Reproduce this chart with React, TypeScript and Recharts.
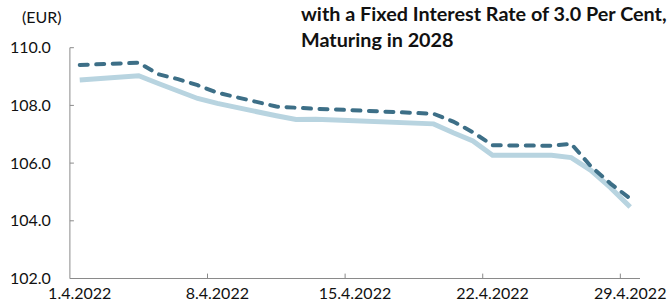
import React from 'react';
import { LineChart, Line, XAxis, YAxis, ReferenceLine } from 'recharts';

// day of April 2022 (business days only)
const days = [1, 4, 5, 6, 7, 8, 11, 12, 13, 14, 19, 20, 21, 22, 25, 26, 27, 28, 29];

// dashed series
const priceA = [
  109.4, 109.48, 109.08, 108.91, 108.7, 108.44, 107.96, 107.92, 107.88, 107.86,
  107.71, 107.44, 107.07, 106.62, 106.6, 106.67, 105.89, 105.29, 104.77,
];
// solid series
const priceB = [
  108.88, 109.03, 108.76, 108.5, 108.24, 108.07, 107.64, 107.51, 107.52, 107.49,
  107.36, 107.05, 106.77, 106.27, 106.27, 106.19, 105.75, 105.15, 104.48,
];

const xLabelDays = [1, 8, 15, 22, 29];
const weekBounds = [7.5, 14.5, 21.5, 28.5];
const yTicks = [102, 104, 106, 108, 110];

const titleLines = ['with a Fixed Interest Rate of 3.0 Per Cent,', 'Maturing in 2028'];

const FONT = 'Lato, "Open Sans", sans-serif';
const AXIS = '#8a8a8a';

const App: React.FC = () => {
  const data = days.map((d, i) => ({ day: d, a: priceA[i], b: priceB[i] }));

  return (
    <div
      style={{
        position: 'absolute',
        left: 0,
        top: 0,
        width: 670,
        height: 307,
        overflow: 'hidden',
        background: '#fff',
        fontFamily: FONT,
      }}
    >
      <div style={{ position: 'absolute', left: 22, top: 9, fontSize: 16, lineHeight: '16px', color: '#111' }}>
        (EUR)
      </div>
      <div
        style={{
          position: 'absolute',
          left: 301,
          top: 0,
          fontSize: 19.8,
          lineHeight: '26px',
          fontWeight: 700,
          color: '#111',
          whiteSpace: 'nowrap',
        }}
      >
        {titleLines.map((t) => (
          <div key={t}>{t}</div>
        ))}
      </div>

      <LineChart
        width={670}
        height={307}
        data={data}
        margin={{ top: 47.7, right: 30, bottom: 0, left: 0 }}
        style={{ fontFamily: FONT }}
      >
        <XAxis
          dataKey="day"
          type="number"
          domain={[0.5, 29.5]}
          ticks={xLabelDays}
          tickFormatter={(v: number) => `${v}.4.2022`}
          height={28.5}
          tickLine={false}
          tickSize={0}
          tickMargin={9}
          axisLine={{ stroke: AXIS, strokeWidth: 1 }}
          tick={{ fill: '#111', fontSize: 16 }}
          interval={0}
          allowDataOverflow
        />
        <YAxis
          type="number"
          domain={[102, 110]}
          ticks={yTicks}
          tickFormatter={(v: number) => v.toFixed(1)}
          width={69.9}
          tickSize={-4}
          tickMargin={23}
          axisLine={{ stroke: AXIS, strokeWidth: 1 }}
          tickLine={{ stroke: AXIS, strokeWidth: 1 }}
          tick={{ fill: '#111', fontSize: 16 }}
          interval={0}
        />
        {weekBounds.map((x) => (
          <ReferenceLine
            key={x}
            segment={[
              { x, y: 102 },
              { x, y: 102.17 },
            ]}
            stroke={AXIS}
            strokeWidth={1}
          />
        ))}
        <Line
          type="linear"
          dataKey="b"
          stroke="#b8d4e0"
          strokeWidth={5}
          dot={false}
          activeDot={false}
          isAnimationActive={false}
        />
        <Line
          type="linear"
          dataKey="a"
          stroke="#3d6f87"
          strokeWidth={4}
          strokeDasharray="8 8.5"
          strokeLinecap="round"
          dot={false}
          activeDot={false}
          isAnimationActive={false}
        />
      </LineChart>
    </div>
  );
};

export default App;
